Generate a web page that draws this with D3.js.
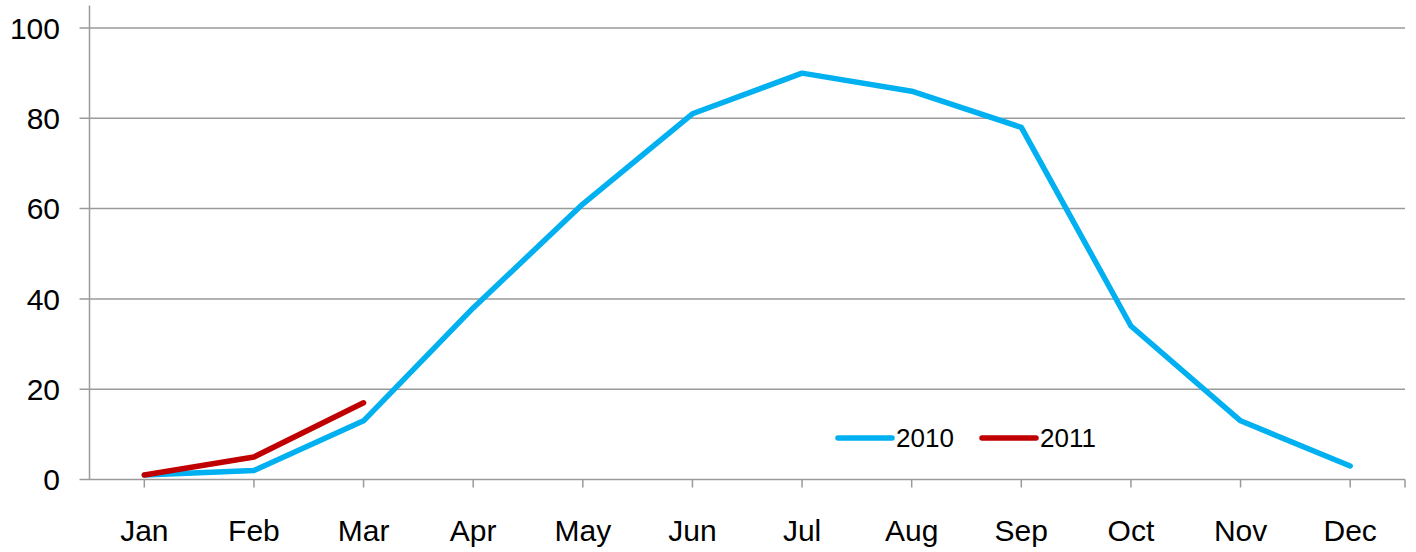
<!DOCTYPE html>
<html><head><meta charset="utf-8">
<script src="https://cdn.jsdelivr.net/npm/d3@7"></script>
<style>body{margin:0;background:#fff;} svg{display:block;font-family:Arial,"Liberation Sans",sans-serif;}</style>
</head><body>
<svg id="chart" width="1416" height="552"></svg>
<script>
const months = ["Jan","Feb","Mar","Apr","May","Jun","Jul","Aug","Sep","Oct","Nov","Dec"];
const values2010 = [1,2,13,38,61,81,90,86,78,34,13,3];
const values2011 = [1,5,17];
const yTicks = [0,20,40,60,80,100];
const seriesNames = ["2010","2011"];
const seriesColors = ["#00B0F0","#C00000"];

const svg = d3.select("#chart");
const mLeft = 89.5, mRight = 1405, mTop = 28, mBottom = 479.5;
const x = d3.scaleBand().domain(months).range([mLeft, mRight]);
const y = d3.scaleLinear().domain([0,100]).range([mBottom, mTop]);
const grid = "#9a9a9a";

// gridlines
svg.append("g").selectAll("line").data(yTicks).join("line")
  .attr("x1", mLeft - 10).attr("x2", mRight)
  .attr("y1", d => y(d)).attr("y2", d => y(d))
  .attr("stroke", grid).attr("stroke-width", 1.5);
// y axis line
svg.append("line").attr("x1", mLeft).attr("x2", mLeft)
  .attr("y1", y(105)).attr("y2", mBottom)
  .attr("stroke", grid).attr("stroke-width", 1.5);
// y labels
svg.append("g").selectAll("text").data(yTicks).join("text")
  .attr("x", 60).attr("y", d => y(d)).attr("dy", "0.36em")
  .attr("text-anchor", "end").attr("font-size", 30).attr("fill", "#000")
  .text(d => d);
// x ticks
const xTickPos = months.map(m => x(m) + x.bandwidth()/2).concat([mRight]);
svg.append("g").selectAll("line").data(xTickPos).join("line")
  .attr("x1", d => d).attr("x2", d => d)
  .attr("y1", mBottom).attr("y2", mBottom + 8)
  .attr("stroke", grid).attr("stroke-width", 1.5);
// x labels
svg.append("g").selectAll("text").data(months).join("text")
  .attr("x", d => x(d) + x.bandwidth()/2).attr("y", 541)
  .attr("text-anchor", "middle").attr("font-size", 30).attr("fill", "#000")
  .text(d => d);

const line = d3.line().x((d,i) => x(months[i]) + x.bandwidth()/2).y(d => y(d));
[values2010, values2011].forEach((vals, k) => {
  svg.append("path").datum(vals).attr("d", line)
    .attr("fill", "none").attr("stroke", seriesColors[k])
    .attr("stroke-width", 5.5).attr("stroke-linejoin", "round").attr("stroke-linecap", "round");
});

// legend
const legX = [838, 982];
seriesNames.forEach((n, k) => {
  svg.append("line").attr("x1", legX[k]).attr("x2", legX[k] + 54)
    .attr("y1", 438).attr("y2", 438)
    .attr("stroke", seriesColors[k]).attr("stroke-width", 5.5).attr("stroke-linecap", "round");
  svg.append("text").attr("x", legX[k] + 58).attr("y", 438).attr("dy", "0.36em")
    .attr("font-size", 26).attr("fill", "#000").text(n);
});
</script>
</body></html>
